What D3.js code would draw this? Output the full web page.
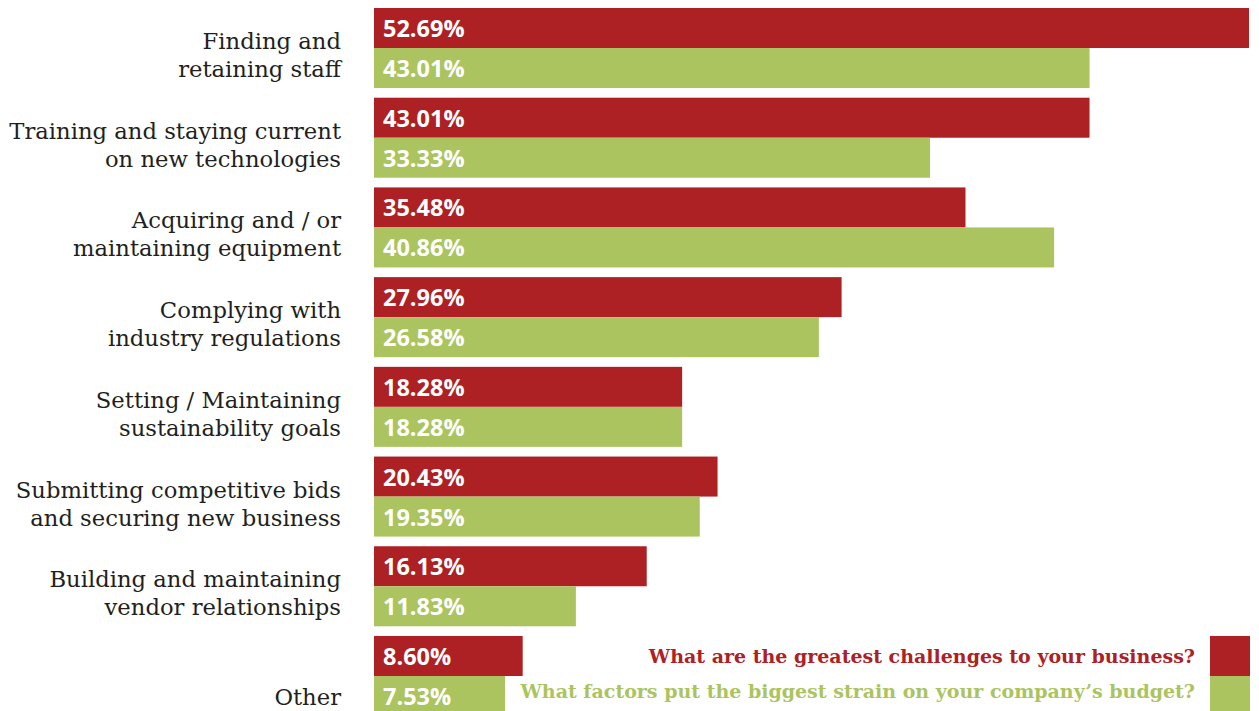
<!DOCTYPE html>
<html>
<head>
<meta charset="utf-8">
<script src="https://cdn.jsdelivr.net/npm/d3@7"></script>
<style>
  html, body { margin: 0; padding: 0; background: #ffffff; overflow: hidden; }
  svg { display: block; }
</style>
</head>
<body>
<svg id="chart" width="1259" height="711"></svg>
<script>
// Survey results: share of respondents naming each item
const categories = [
  ["Finding and", "retaining staff"],
  ["Training and staying current", "on new technologies"],
  ["Acquiring and / or", "maintaining equipment"],
  ["Complying with", "industry regulations"],
  ["Setting / Maintaining", "sustainability goals"],
  ["Submitting competitive bids", "and securing new business"],
  ["Building and maintaining", "vendor relationships"],
  ["", "Other"]
];
const challenges = [52.69, 43.01, 35.48, 27.96, 18.28, 20.43, 16.13, 8.60];
const budgetStrain = [43.01, 33.33, 40.86, 26.58, 18.28, 19.35, 11.83, 7.53];
const seriesNames = [
  "What are the greatest challenges to your business?",
  "What factors put the biggest strain on your company\u2019s budget?"
];
const seriesColors = ["#ad2024", "#abc45f"];

const W = 1259, H = 711;
const svg = d3.select("#chart");

const rows = categories.map((c, i) => ({
  lines: c,
  values: [challenges[i], budgetStrain[i]]
}));

const y = d3.scaleBand()
  .domain(d3.range(rows.length))
  .range([8, 716])
  .paddingInner(0.108)
  .paddingOuter(0);

const ySeries = d3.scaleBand()
  .domain([0, 1])
  .range([0, y.bandwidth()]);

const x = d3.scaleLinear()
  .domain([0, 52.69])
  .range([381, 1249]);

const barStart = 374;

const groups = svg.selectAll("g.row")
  .data(rows)
  .join("g")
  .attr("class", "row")
  .attr("transform", (d, i) => `translate(0,${y(i)})`);

groups.selectAll("rect")
  .data(d => d.values.map((v, s) => ({ v, s })))
  .join("rect")
  .attr("x", barStart)
  .attr("y", d => ySeries(d.s))
  .attr("width", d => x(d.v) - barStart)
  .attr("height", ySeries.bandwidth())
  .attr("fill", d => seriesColors[d.s]);

groups.selectAll("text.val")
  .data(d => d.values.map((v, s) => ({ v, s })))
  .join("text")
  .attr("class", "val")
  .attr("x", 383)
  .attr("y", d => ySeries(d.s) + 29)
  .attr("fill", "#ffffff")
  .attr("font-family", "'Open Sans', sans-serif")
  .attr("font-weight", 700)
  .attr("font-size", 23.5)
  .text(d => d.v.toFixed(2) + "%");

// Category labels, two lines each, right-aligned against the bars
groups.each(function(d) {
  const g = d3.select(this);
  d.lines.forEach((line, li) => {
    if (!line) return;
    g.append("text")
      .attr("x", 341)
      .attr("y", 41 + li * 28)
      .attr("text-anchor", "end")
      .attr("fill", "#231f20")
      .attr("font-family", "'DejaVu Serif', serif")
      .attr("font-size", 22.7)
      .text(line);
  });
});

// Legend, aligned with the last group of bars
const lastTop = y(rows.length - 1);
const legend = svg.append("g");
seriesNames.forEach((name, s) => {
  legend.append("rect")
    .attr("x", 1210)
    .attr("y", lastTop + ySeries(s))
    .attr("width", 40)
    .attr("height", ySeries.bandwidth())
    .attr("fill", seriesColors[s]);
  legend.append("text")
    .attr("x", 1195)
    .attr("y", lastTop + 27 + s * 35)
    .attr("text-anchor", "end")
    .attr("fill", seriesColors[s])
    .attr("font-family", "'DejaVu Serif', serif")
    .attr("font-weight", 700)
    .attr("font-size", 19)
    .text(name);
});
</script>
</body>
</html>
